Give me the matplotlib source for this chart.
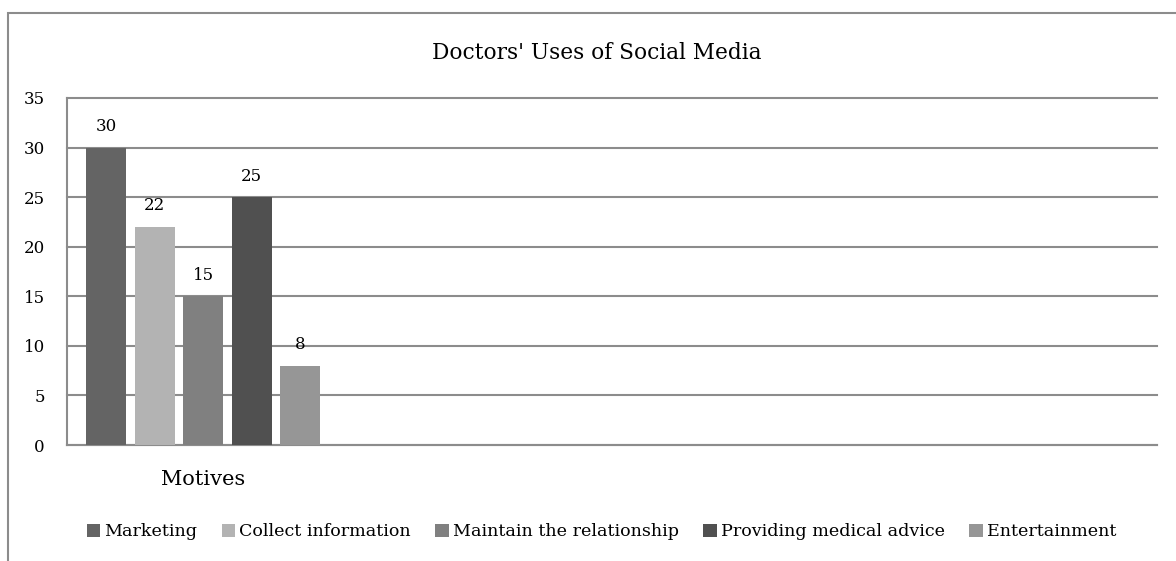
import matplotlib
matplotlib.use("Agg")
import matplotlib.pyplot as plt
from matplotlib.patches import Rectangle

# Survey results: motives for doctors' use of social media
series_names = ["Marketing", "Collect information", "Maintain the relationship",
                "Providing medical advice", "Entertainment"]
series_values = [30, 22, 15, 25, 8]
series_colors = ["#646464", "#b3b3b3", "#808080", "#505050", "#969696"]
category_labels = ["Motives", "", "", ""]
y_ticks = [0, 5, 10, 15, 20, 25, 30, 35]

plt.rcParams["font.family"] = ["DejaVu Serif"]

W, H = 1176, 561
fig = plt.figure(figsize=(W / 100, H / 100), dpi=100)

# Chart-area frame (runs off the right and bottom edges)
fig.patches.append(Rectangle((8 / W, -0.05), 1.2, 1 - 13 / H + 0.05,
                             transform=fig.transFigure, fill=False,
                             edgecolor="#8c8c8c", linewidth=1.5))

ax = fig.add_axes([67 / W, 1 - 445 / H, (1157 - 67) / W, (445 - 98) / H])

grid_color = "#8c8c8c"
n_cat = len(category_labels)
step = 0.178
bar_w = 0.147
handles = []
for i, (name, val, col) in enumerate(zip(series_names, series_values, series_colors)):
    x = 0.5 + (i - 2) * step
    b = ax.bar([x], [val], width=bar_w, color=col, label=name, zorder=3)
    handles.append(b)
    ax.annotate(str(val), (x, val), xytext=(0, 9), textcoords="offset points",
                ha="center", va="bottom", fontsize=12, color="black")

ax.set_xlim(0, n_cat)
ax.set_ylim(0, 35)
ax.set_yticks(y_ticks)
ax.set_yticklabels([str(t) for t in y_ticks], fontsize=12)
ax.set_xticks([c + 0.5 for c in range(n_cat)])
ax.set_xticklabels(category_labels, fontsize=15)
ax.tick_params(axis="y", length=0, pad=16)
ax.tick_params(axis="x", length=0, pad=18)
ax.yaxis.grid(True, color=grid_color, linewidth=1.5, zorder=0)
for gl in ax.get_ygridlines():
    gl.set_clip_on(False)
ax.set_axisbelow(True)
for s in ["top", "right"]:
    ax.spines[s].set_visible(False)
for s in ["left", "bottom"]:
    ax.spines[s].set_color(grid_color)
    ax.spines[s].set_linewidth(1.5)

fig.text((432 + 762) / 2 / W, 1 - 53 / H, "Doctors' Uses of Social Media",
         ha="center", va="center", fontsize=15.6)

fig.legend(handles=handles, labels=series_names, loc="center left",
           bbox_to_anchor=(78 / W, 1 - 532 / H), ncol=5, frameon=False,
           fontsize=12.6, handlelength=0.75, handleheight=0.75,
           handletextpad=0.25, columnspacing=1.4, borderpad=0)

fig.savefig("out.png", dpi=100, facecolor="white")
